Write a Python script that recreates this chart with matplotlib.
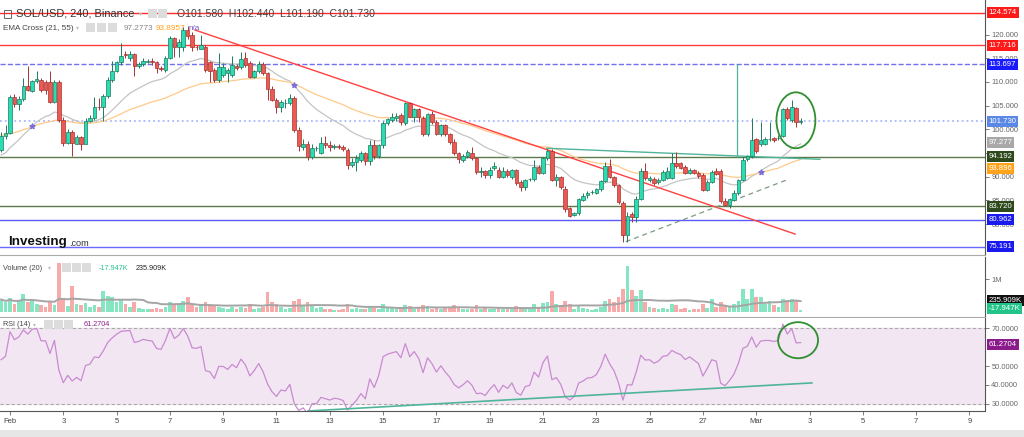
import numpy as np
import pandas as pd
import matplotlib
matplotlib.use('Agg')
import matplotlib.pyplot as plt
from matplotlib.patches import Ellipse, Rectangle

plt.rcParams['font.family'] = ['Liberation Sans', 'DejaVu Sans']

W, H = 1024, 437

# SOL/USD 4h candles, first candle Jan 31 16:00
OPEN = [95.6, 98.5, 99.2, 106.9, 105.3, 106.3, 109.1, 108.0, 110.2, 110.5,
        110.0, 110.0, 105.8, 110.0, 102.0, 97.2, 99.5, 97.0, 98.3, 97.0,
        101.8, 102.3, 104.8, 104.6, 107.0, 110.4, 112.4, 114.1, 115.9, 115.0,
        115.9, 113.4, 113.7, 114.3, 114.3, 114.3, 112.9, 112.6, 115.1, 119.2,
        117.4, 117.4, 121.0, 119.9, 117.4, 117.0, 117.4, 114.3, 112.5, 110.4,
        111.5, 111.8, 111.5, 113.3, 113.2, 115.0, 114.0, 111.1, 112.2, 113.7,
        111.8, 108.6, 106.2, 104.6, 105.5, 105.5, 106.7, 99.9, 96.3, 96.9,
        94.1, 96.0, 94.9, 97.2, 96.7, 96.2, 96.4, 96.3, 95.6, 92.5,
        93.2, 93.6, 94.9, 93.4, 96.7, 94.4, 96.7, 101.4, 102.0, 102.3,
        103.0, 101.4, 105.5, 102.7, 104.2, 102.3, 99.0, 103.2, 101.6, 99.1,
        100.9, 99.0, 97.4, 95.0, 93.6, 94.4, 95.1, 93.9, 91.0, 91.3,
        90.3, 91.9, 91.4, 90.0, 91.3, 90.0, 91.4, 88.9, 87.8, 89.5,
        89.6, 92.1, 90.8, 93.9, 95.5, 89.2, 89.9, 87.5, 83.3, 81.9,
        82.4, 85.1, 86.1, 86.7, 86.6, 87.3, 89.1, 92.2, 89.9, 88.2,
        84.5, 77.7, 82.2, 81.4, 85.3, 91.2, 89.2, 89.6, 88.9, 89.4,
        89.7, 89.7, 92.9, 92.9, 92.1, 90.8, 91.4, 90.8, 90.4, 87.2,
        88.9, 91.3, 91.3, 84.9, 84.1, 85.0, 86.6, 89.2, 93.7, 94.3,
        97.9, 96.9, 97.0, 97.9, 98.1, 98.1, 98.6, 104.2, 101.9, 104.4,
        101.58]
HIGH = [99.5, 101.0, 107.3, 107.5, 107.0, 110.8, 113.4, 110.5, 112.2, 110.8,
        110.5, 112.2, 110.3, 110.3, 102.5, 100.0, 99.8, 98.8, 98.5, 102.3,
        103.0, 106.9, 106.5, 107.5, 111.1, 114.5, 114.5, 118.3, 116.5, 116.5,
        116.2, 114.3, 115.0, 114.8, 115.0, 114.5, 113.3, 115.5, 119.6, 119.5,
        119.0, 121.6, 121.8, 120.5, 117.8, 119.9, 117.8, 114.5, 113.0, 116.0,
        114.0, 113.0, 115.5, 113.8, 116.4, 116.3, 114.5, 112.6, 114.5, 114.2,
        112.0, 109.2, 106.5, 106.2, 106.3, 107.5, 107.0, 100.5, 98.0, 97.5,
        96.9, 96.5, 98.4, 98.5, 97.5, 96.9, 96.8, 96.6, 96.0, 94.0,
        94.5, 95.5, 95.3, 97.8, 97.7, 97.0, 101.8, 102.4, 103.5, 103.5,
        103.5, 105.7, 105.7, 104.5, 104.5, 102.8, 103.5, 103.8, 102.0, 101.2,
        101.2, 99.3, 98.0, 95.3, 94.8, 95.6, 96.3, 94.2, 92.0, 91.5,
        92.0, 93.0, 92.0, 92.0, 91.6, 91.7, 91.7, 89.2, 89.6, 89.8,
        93.5, 92.5, 94.2, 95.8, 95.9, 90.5, 90.2, 88.0, 83.6, 82.6,
        85.6, 86.5, 87.0, 87.1, 87.6, 89.4, 93.2, 93.8, 90.2, 88.5,
        84.8, 82.5, 82.5, 86.0, 91.8, 92.9, 90.2, 90.0, 89.8, 91.4,
        92.0, 95.1, 95.3, 93.2, 92.4, 91.8, 91.7, 91.1, 90.8, 89.2,
        91.5, 91.8, 91.6, 85.5, 85.5, 87.2, 89.6, 94.2, 94.6, 102.3,
        98.2, 101.6, 98.3, 101.6, 98.4, 98.8, 104.5, 104.6, 106.2, 104.8,
        102.44]
LOW = [95.3, 98.0, 99.0, 104.8, 104.0, 106.0, 108.0, 107.8, 109.8, 107.8,
       107.5, 105.5, 105.5, 101.5, 96.5, 97.0, 94.4, 96.8, 95.6, 96.8,
       101.5, 102.0, 104.0, 101.8, 106.5, 110.0, 112.0, 113.5, 115.0, 114.5,
       111.2, 113.0, 113.3, 114.0, 113.6, 111.8, 112.3, 112.0, 114.8, 115.3,
       115.3, 116.5, 119.0, 116.5, 116.8, 117.0, 112.0, 110.0, 110.0, 110.0,
       111.0, 110.0, 111.0, 112.5, 112.8, 113.2, 110.8, 110.8, 111.8, 111.5,
       106.2, 106.0, 103.5, 103.6, 104.5, 105.2, 99.5, 95.5, 95.6, 93.5,
       93.8, 95.5, 94.8, 96.0, 95.5, 95.8, 95.9, 95.5, 91.6, 92.0,
       91.3, 93.0, 92.5, 92.5, 93.8, 94.0, 96.0, 101.0, 101.6, 101.7,
       101.0, 101.0, 102.5, 101.5, 101.5, 98.5, 98.5, 101.2, 98.8, 98.6,
       98.5, 97.0, 94.5, 92.8, 93.0, 94.0, 93.5, 90.5, 90.0, 89.8,
       89.8, 91.5, 89.7, 89.7, 90.0, 89.5, 88.3, 87.0, 87.2, 89.1,
       89.0, 90.5, 90.5, 93.5, 89.0, 88.0, 87.5, 82.5, 81.5, 81.7,
       82.0, 84.8, 85.6, 86.3, 86.3, 87.0, 88.8, 89.7, 87.8, 84.3,
       76.3, 76.2, 80.5, 80.5, 85.0, 89.2, 88.9, 88.3, 88.5, 89.0,
       89.5, 89.5, 91.8, 91.6, 90.5, 90.5, 90.5, 89.8, 87.0, 87.0,
       88.6, 90.3, 84.5, 83.8, 83.5, 84.8, 86.2, 89.0, 93.3, 94.0,
       95.0, 96.5, 96.7, 97.5, 97.4, 97.8, 98.3, 102.0, 101.6, 100.5,
       101.19]
CLOSE = [98.5, 99.3, 106.9, 105.3, 106.3, 109.1, 108.3, 110.2, 110.6, 108.3,
         108.3, 105.8, 110.0, 102.0, 97.2, 99.5, 97.2, 98.3, 97.0, 101.8,
         102.3, 104.8, 104.6, 107.0, 110.4, 112.4, 114.1, 115.5, 115.7, 115.9,
         113.4, 113.8, 114.5, 114.3, 114.2, 112.9, 112.7, 115.1, 119.2, 117.4,
         118.5, 121.0, 119.7, 117.4, 117.3, 117.8, 112.5, 112.2, 110.4, 113.2,
         113.2, 112.5, 113.6, 112.9, 114.8, 113.6, 111.1, 112.2, 113.7, 111.8,
         108.6, 106.2, 104.6, 105.8, 105.5, 106.7, 99.9, 96.5, 97.0, 94.1,
         96.0, 96.0, 97.2, 96.7, 96.2, 96.5, 96.3, 95.8, 92.5, 93.2,
         93.9, 94.9, 93.4, 96.7, 94.4, 96.7, 101.4, 102.1, 102.5, 102.8,
         101.6, 105.5, 102.7, 104.2, 102.7, 99.0, 103.2, 101.6, 99.1, 100.9,
         99.0, 97.4, 94.9, 93.7, 94.4, 95.3, 93.9, 91.0, 91.1, 90.3,
         91.4, 92.3, 90.0, 91.3, 90.4, 91.4, 88.6, 87.8, 89.3, 89.5,
         92.0, 90.8, 93.9, 95.5, 89.4, 89.9, 87.8, 83.1, 81.7, 82.4,
         85.4, 85.9, 86.6, 86.7, 87.3, 89.1, 92.2, 90.0, 88.2, 84.7,
         77.7, 81.7, 81.5, 85.3, 91.3, 89.7, 89.8, 88.7, 89.4, 91.0,
         91.2, 92.9, 92.3, 91.9, 90.8, 91.5, 90.8, 90.1, 87.2, 88.9,
         90.9, 90.6, 84.9, 84.1, 85.2, 86.6, 89.2, 93.6, 94.3, 97.7,
         95.4, 97.7, 97.9, 97.9, 97.7, 98.1, 104.2, 102.3, 104.6, 101.6,
         101.73]
VOLUME_K = [380, 300, 420, 250, 350, 560, 300, 380, 250, 200,
            150, 300, 220, 1500, 420, 180, 780, 250, 200, 280,
            150, 200, 150, 650, 500, 450, 300, 400, 250, 150,
            300, 120, 100, 90, 80, 120, 80, 150, 300, 250,
            200, 350, 450, 250, 150, 200, 300, 250, 200, 150,
            120, 100, 150, 80, 150, 120, 250, 100, 120, 150,
            620, 300, 250, 150, 100, 120, 350, 400, 200, 300,
            200, 120, 150, 100, 80, 60, 70, 80, 250, 100,
            120, 100, 80, 150, 120, 100, 250, 150, 120, 100,
            150, 200, 180, 100, 120, 200, 180, 100, 150, 100,
            120, 150, 200, 150, 80, 80, 100, 200, 100, 120,
            100, 80, 120, 100, 80, 100, 180, 150, 120, 80,
            250, 150, 280, 320, 650, 250, 200, 350, 250, 100,
            200, 120, 100, 60, 80, 150, 350, 400, 300, 450,
            700, 1390, 680, 500, 680, 300, 150, 120, 80, 120,
            100, 250, 200, 100, 120, 60, 80, 100, 250, 120,
            400, 150, 300, 200, 150, 250, 350, 690, 400, 700,
            450, 450, 250, 350, 200, 150, 400, 380, 400, 350,
            60]

EMA_FAST, EMA_SLOW = 21, 55
EMA_FAST_START, EMA_SLOW_START = 94.2, 98.8   # read at the left edge
RSI_LEN = 14
RSI_GAIN_START, RSI_LOSS_START = 0.8, 0.7

# horizontal levels: value, line colour, style, label box colour
LEVELS = [(124.574, '#ff2a2a', '-', '#ff1a1a'),
          (117.716, '#ff3b3b', '-', '#ff1a1a'),
          (113.697, '#7070f0', '--', '#1a1aff'),
          (101.730, '#a8b8ff', ':', '#5a88e6'),
          (94.192, '#5c7a4a', '-', '#2e4a1c'),
          (83.720, '#5c7a4a', '-', '#2e4a1c'),
          (80.962, '#5a5aff', '-', '#1a1aee'),
          (75.191, '#6a6aff', '-', '#1a1aee')]
EMA_LABELS = [(97.277, '#a8a8a8'), (93.896, '#ffa31a')]

# drawn trend lines (days from Feb 1, price)
RED_TREND = ([6.94, 29.46], [120.95, 77.9])
TEAL_TREND = ([20.14, 30.39], [96.0, 93.67])
DASH_TREND = ([23.11, 29.23], [76.29, 89.5])
SPIKE_LINE = (27.28, 94.192, 113.697)
RSI_TREND = ([11.18, 30.09], [26.3, 41.1])

DAY_TICKS = list(range(0, 37, 2))
DAY_LABELS = ['Feb', '3', '5', '7', '9', '11', '13', '15', '17', '19', '21',
              '23', '25', '27', 'Mar', '3', '5', '7', '9']

GREEN = '#29dcb4'
GREEN_EDGE = '#1f7a5c'
RED = '#ea5a52'
RED_EDGE = '#a83232'


def ema(values, n, start):
    out = []
    e = start
    a = 2.0 / (n + 1)
    for v in values:
        e = e + a * (v - e)
        out.append(e)
    return np.array(out)


def rsi(values, n, g0, l0):
    out = []
    g, l = g0, l0
    prev = None
    for v in values:
        if prev is not None:
            d = v - prev
            g = (g * (n - 1) + max(d, 0)) / n
            l = (l * (n - 1) + max(-d, 0)) / n
        prev = v
        out.append(100 - 100 / (1 + g / l))
    return np.array(out)


def px(x, y):
    return x / W, 1 - y / H


def box_label(ax, val, txt, color, dy=0, fc_text='white'):
    ax.annotate(txt, xy=(1, val), xycoords=ax.get_yaxis_transform(),
                xytext=(2.5, dy), textcoords='offset points', ha='left', va='center',
                fontsize=5.6, color=fc_text, annotation_clip=False, zorder=20,
                bbox=dict(boxstyle='square,pad=0.25', fc=color, ec='none'))


def main():
    o = np.array(OPEN)
    h = np.array(HIGH)
    l = np.array(LOW)
    c = np.array(CLOSE)
    vol = np.array(VOLUME_K, dtype=float)
    n = len(c)
    t = -1 / 3 + np.arange(n) / 6.0
    up = c >= o

    fig = plt.figure(figsize=(W / 100, H / 100), dpi=100)
    right = 985 / W
    ax = fig.add_axes([0, (H - 255) / H, right, 255 / H])
    axv = fig.add_axes([0, (H - 317) / H, right, 60 / H], sharex=ax)
    axr = fig.add_axes([0, (H - 411) / H, right, 93 / H], sharex=ax)

    for a in (ax, axv, axr):
        a.set_facecolor('white')
        for s in ('top', 'left'):
            a.spines[s].set_visible(False)
        a.spines['right'].set_color('#555555')
        a.spines['bottom'].set_color('#aaaaaa')
        a.yaxis.tick_right()
        a.tick_params(axis='y', labelsize=5.4, colors='#666666', length=3, width=0.6, pad=1.5)
        a.tick_params(axis='x', length=0, labelbottom=False)

    # --- main price panel ---
    ax.set_xlim(-0.375, 36.585)
    ax.set_ylim(73.48, 127.28)
    ax.set_yticks(np.arange(80, 121, 5))
    ax.set_yticklabels(['%.3f' % v for v in np.arange(80, 121, 5)])

    for val, col, ls, _ in LEVELS:
        ax.axhline(val, color=col, ls=ls, lw=1.0 if ls != ':' else 1.3, zorder=1)

    e_fast = ema(c, EMA_FAST, EMA_FAST_START)
    e_slow = ema(c, EMA_SLOW, EMA_SLOW_START)
    ax.plot(t, e_fast, color='#c4c4c4', lw=0.9, zorder=2)
    ax.plot(t, e_slow, color='#ffc98a', lw=0.9, zorder=2)
    diff = np.sign(e_fast - e_slow)
    cross = np.where(diff[1:] != diff[:-1])[0] + 1
    ax.scatter(t[cross], (e_fast[cross] + e_slow[cross]) / 2, marker='*', s=14,
               color='#7a6fd6', zorder=6)

    ax.plot(*RED_TREND, color='#ff4040', lw=1.0, zorder=3)
    ax.plot(*TEAL_TREND, color='#4fb59a', lw=1.0, zorder=3)
    ax.plot(*DASH_TREND, color='#7f9a7f', lw=0.9, ls=(0, (4, 3)), zorder=3)
    ax.vlines(SPIKE_LINE[0], SPIKE_LINE[1], SPIKE_LINE[2], color='#4fb59a', lw=0.9, zorder=3)

    body_w = 0.135
    wick_col = np.where(up, GREEN_EDGE, RED_EDGE)
    ax.vlines(t, l, h, colors=wick_col, lw=0.7, zorder=4)
    body = np.maximum(np.abs(c - o), 0.12)
    ax.bar(t, body, bottom=np.minimum(o, c), width=body_w,
           color=np.where(up, GREEN, RED), edgecolor=wick_col, linewidth=0.5, zorder=5)

    ax.add_patch(Ellipse((29.49, 101.9), 1.46, 11.8, fill=False, ec='#2f8f2f', lw=1.3, zorder=7))

    for val, col, ls, box in LEVELS:
        box_label(ax, val, '%.3f' % val, box)
    box_label(ax, EMA_LABELS[0][0], '%.3f' % EMA_LABELS[0][0], EMA_LABELS[0][1])
    box_label(ax, EMA_LABELS[1][0], '%.3f' % EMA_LABELS[1][0], EMA_LABELS[1][1], dy=-7.5)

    # --- volume panel ---
    axv.set_ylim(-150, 1670)
    axv.set_yticks([1000])
    axv.set_yticklabels(['1M'])
    vcol = np.where(up, '#86e6c2', '#f8aaaa')
    axv.bar(t, vol, width=0.14, color=vcol, zorder=2)
    vma = pd.Series(vol).rolling(20, min_periods=1).mean()
    axv.plot(t, vma, color='#a5a5a5', lw=1.4, zorder=3)
    box_label(axv, 235.909, '235.909K', '#111111', dy=3)
    box_label(axv, -17.947, '-17.947K', '#22c48a', dy=3)

    # --- RSI panel ---
    axr.set_ylim(26.3, 75.3)
    axr.axhspan(30, 70, color='#f3e6f3', zorder=0)
    axr.axhline(70, color='#aaaaaa', ls=(0, (3, 2)), lw=0.8)
    axr.axhline(30, color='#aaaaaa', ls=(0, (3, 2)), lw=0.8)
    r = rsi(c, RSI_LEN, RSI_GAIN_START, RSI_LOSS_START)
    axr.plot(t, r, color='#c88ad0', lw=0.9, zorder=3)
    axr.plot(*RSI_TREND, color='#4fb59a', lw=1.2, zorder=3)
    axr.add_patch(Ellipse((29.57, 63.6), 1.5, 19.0, fill=False, ec='#2f8f2f', lw=1.3, zorder=7))
    axr.set_yticks([30, 40, 50, 70])
    axr.set_yticklabels(['30.0000', '40.0000', '50.0000', '70.0000'])
    box_label(axr, 61.2704, '61.2704', '#8b1a8b')

    axr.set_xticks(DAY_TICKS)
    axr.set_xticklabels(DAY_LABELS)
    axr.tick_params(axis='x', labelbottom=True, length=3, width=0.6, colors='#666666',
                    labelsize=5.5, labelcolor='#444444', pad=2)
    axr.spines['bottom'].set_color('#555555')

    # --- header texts ---
    fig.add_artist(Rectangle(px(4, 18), 7 / W, 8 / H, fill=False, ec='#666666', lw=0.7))
    fig.text(*px(16, 14), 'SOL/USD, 240, Binance', fontsize=7.9, color='#333333', va='center')
    fig.text(*px(139, 14), '▾', fontsize=4.5, color='#bbbbbb', va='center')
    fig.text(*px(177, 14), 'O101.580  H102.440  L101.190  C101.730', fontsize=7.6,
             color='#444444', va='center')
    fig.text(*px(3, 28), 'EMA Cross (21, 55)', fontsize=5.9, color='#444444', va='center')
    fig.text(*px(76, 28), '▾', fontsize=4.2, color='#bbbbbb', va='center')
    fig.text(*px(124, 28), '97.2773', fontsize=5.9, color='#888888', va='center')
    fig.text(*px(156, 28), '93.8957', fontsize=5.9, color='#ffa31a', va='center')
    fig.text(*px(189, 28), 'n/a', fontsize=5.9, color='#6a5acd', va='center')
    fig.text(*px(3, 268), 'Volume (20)', fontsize=5.2, color='#444444', va='center')
    fig.text(*px(48, 268), '▾', fontsize=4.2, color='#bbbbbb', va='center')
    fig.text(*px(99, 268), '-17.947K', fontsize=5.2, color='#22c48a', va='center')
    fig.text(*px(136, 268), '235.909K', fontsize=5.2, color='#222222', va='center')
    fig.text(*px(3, 325), 'RSI (14)', fontsize=5.2, color='#444444', va='center')
    fig.text(*px(33, 325), '▾', fontsize=4.2, color='#bbbbbb', va='center')
    fig.text(*px(84, 325), '61.2704', fontsize=5.2, color='#8b1a8b', va='center')
    for x0, y0 in [(148, 9), (158, 9), (86, 23), (97, 23), (108, 23),
                   (62, 263), (72, 263), (82, 263), (44, 320), (54, 320), (64, 320)]:
        fig.add_artist(Rectangle(px(x0, y0 + 9), 9 / W, 9 / H, fc='#dcdcdc', ec='none'))

    fig.text(*px(8, 242), 'Investing', fontsize=9.6, fontweight='bold', color='#111111',
             va='center')
    fig.text(*px(69, 244), '.com', fontsize=6.6, color='#333333', va='center')

    fig.add_artist(Rectangle((0, 0), 1, 7 / H, fc='#e6e6e6', ec='none'))

    fig.savefig('out.png', dpi=100)


if __name__ == '__main__':
    main()
